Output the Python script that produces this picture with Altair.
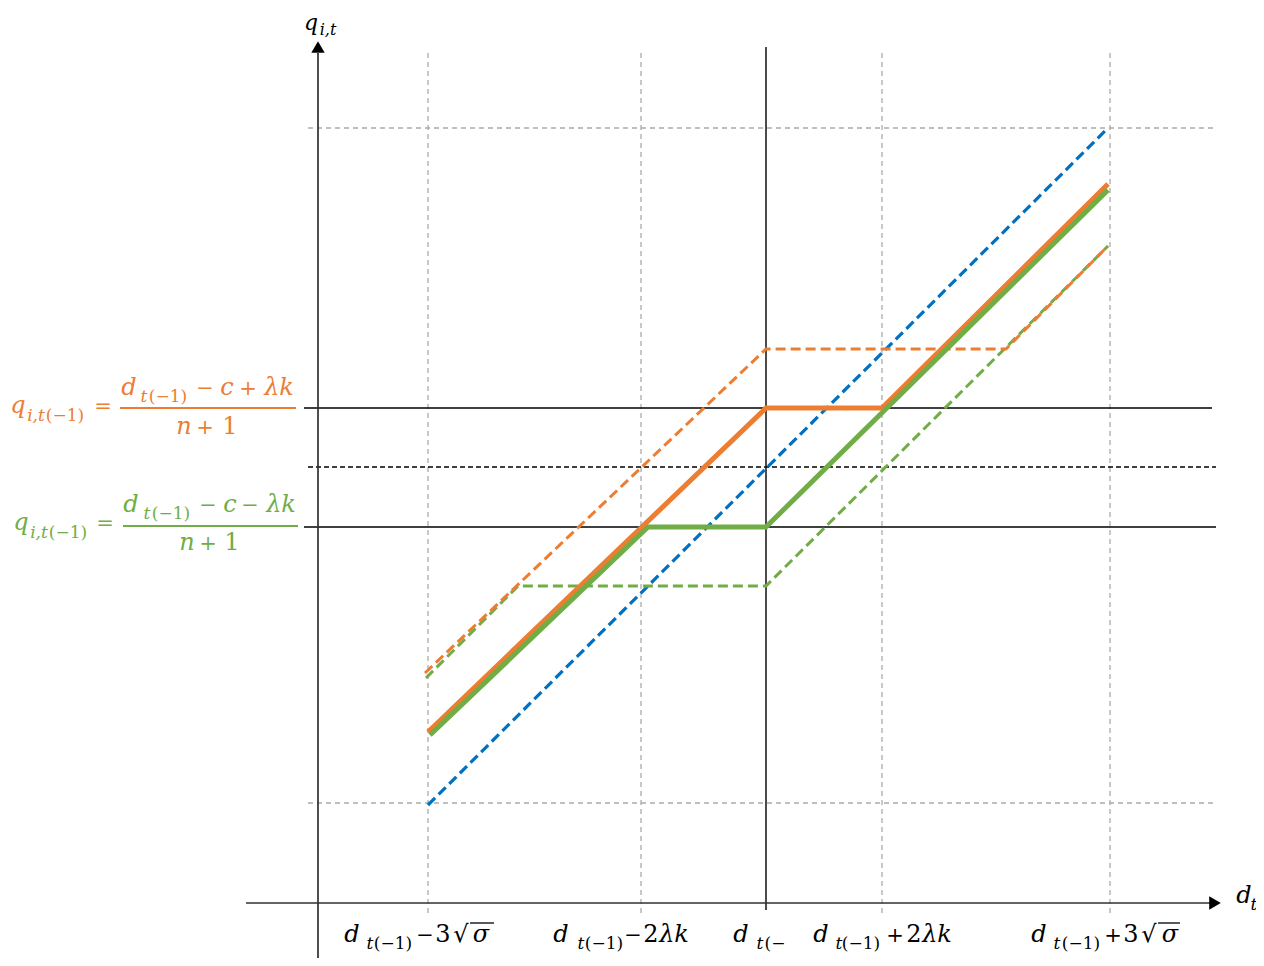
import altair as alt
import pandas as pd

# ---------------- data (diagram coordinates: d_t on x, q_{i,t} on y) ----------------
# reference verticals: d-3sqrt(sigma), d-2λk, d+2λk, d+3sqrt(sigma)  (d itself at 0)
guide_x = [-338, -125, 116, 344]
guide_y = [775, 100]
q_high = 495      # (d - c + λk)/(n+1)
q_mid = 436
q_low = 376       # (d - c - λk)/(n+1)

blue_u = [-338, 342]
blue_v = [98, 775]
orange_solid_u = [-338, 0, 116, 342]
orange_solid_v = [171, 495, 495, 719]
green_solid_u = [-336, -118, 0, 342]
green_solid_v = [168, 376, 376, 713]
orange_dash_u = [-341, 0, 240, 342]
orange_dash_v = [230, 554, 554, 657]
green_dash_u = [-340, -248, 0, 342]
green_dash_v = [225, 317, 317, 657]

ORANGE = "#ED7D31"
GREEN = "#70AD47"
BLUE = "#0070C0"
GRAY = "#ABABAB"

XS = alt.Scale(domain=[-758, 490], nice=False, zero=False)
YS = alt.Scale(domain=[-55, 895], nice=False, zero=False)


def seg_layer(rows, color, width, dash=None):
    df = pd.DataFrame(rows, columns=["u", "u2", "v", "v2"])
    kw = dict(color=color, strokeWidth=width, clip=False)
    if dash:
        kw["strokeDash"] = dash
    return alt.Chart(df).mark_rule(**kw).encode(
        x=alt.X("u:Q", scale=XS, axis=None),
        x2="u2:Q",
        y=alt.Y("v:Q", scale=YS, axis=None),
        y2="v2:Q",
    )


def poly_layer(us, vs, color, width, dash=None):
    df = pd.DataFrame({"u": us, "v": vs, "i": range(len(us))})
    kw = dict(color=color, strokeWidth=width, strokeJoin="miter", clip=False)
    if dash:
        kw["strokeDash"] = dash
    return alt.Chart(df).mark_line(**kw).encode(
        x=alt.X("u:Q", scale=XS, axis=None),
        y=alt.Y("v:Q", scale=YS, axis=None),
        order="i:Q",
    )


layers = []
# gray dashed guides
layers.append(seg_layer([[x, x, -10, 850] for x in guide_x], GRAY, 1.3, [5, 4]))
layers.append(seg_layer([[-458, 449, y, y] for y in guide_y], GRAY, 1.3, [5, 4]))
# black reference levels
layers.append(seg_layer([[-462, 446, q_high, q_high], [-462, 450, q_low, q_low]], "#000000", 1.5))
layers.append(seg_layer([[-458, 450, q_mid, q_mid]], "#000000", 1.4, [5, 3]))
# centre vertical and axes
layers.append(seg_layer([[0, 0, -7, 856]], "#111111", 1.5))
layers.append(seg_layer([[-448, -448, -63, 850], [-520, 444, 0, 0]], "#303030", 1.7))

# arrowheads
arrows = pd.DataFrame({"u": [-448, 449], "v": [856, 0], "shape": ["triangle-up", "triangle-right"]})
layers.append(
    alt.Chart(arrows).mark_point(filled=True, color="black", size=180, opacity=1, clip=False).encode(
        x=alt.X("u:Q", scale=XS, axis=None),
        y=alt.Y("v:Q", scale=YS, axis=None),
        shape=alt.Shape("shape:N", scale=None),
    )
)

# curves
layers.append(poly_layer(blue_u, blue_v, BLUE, 3.2, [10, 5]))
layers.append(poly_layer(green_dash_u, green_dash_v, GREEN, 3, [10, 5]))
layers.append(poly_layer(orange_dash_u, orange_dash_v, ORANGE, 3, [10, 5]))
layers.append(poly_layer(orange_solid_u, orange_solid_v, ORANGE, 5))
layers.append(poly_layer(green_solid_u, green_solid_v, GREEN, 5))

# fraction bars
layers.append(seg_layer([[-646, -470, 495, 495]], ORANGE, 2))
layers.append(seg_layer([[-643, -468, 377, 377]], GREEN, 2))

# ---------------- text pieces (centre-aligned) ----------------
# style: i = italic variable, r = upright
B, S, O = 24, 17, 21  # base, subscript and operator font sizes
K = "#000000"
texts = [
    # axis titles
    ("q", -455, 873, 22, K, "i"), ("i,t", -438, 868, 16, K, "i"),
    ("d", 478, 0, B, K, "i"), ("t", 488, -7, S, K, "i"),
    # orange formula
    ("q", -748, 490, B, ORANGE, "i"), ("i,t", -730, 482, S, ORANGE, "i"),
    ("(−1)", -701, 482, S, ORANGE, "r"), ("=", -663, 490, O, ORANGE, "r"),
    ("d", -637, 508, B, ORANGE, "i"), ("t", -622, 501, S, ORANGE, "i"),
    ("(−1)", -598, 501, S, ORANGE, "r"), ("−", -561, 508, O, ORANGE, "r"),
    ("c", -539, 508, B, ORANGE, "i"), ("+", -518, 508, O, ORANGE, "r"),
    ("λk", -487, 508, B, ORANGE, "i"),
    ("n", -582, 469, B, ORANGE, "i"), ("+", -561, 469, O, ORANGE, "r"),
    ("1", -536, 469, B, ORANGE, "r"),
    # green formula
    ("q", -745, 373, B, GREEN, "i"), ("i,t", -727, 365, S, GREEN, "i"),
    ("(−1)", -698, 365, S, GREEN, "r"), ("=", -661, 373, O, GREEN, "r"),
    ("d", -635, 391, B, GREEN, "i"), ("t", -619, 384, S, GREEN, "i"),
    ("(−1)", -595, 384, S, GREEN, "r"), ("−", -558, 391, O, GREEN, "r"),
    ("c", -536, 391, B, GREEN, "i"), ("−", -516, 391, O, GREEN, "r"),
    ("λk", -485, 391, B, GREEN, "i"),
    ("n", -579, 353, B, GREEN, "i"), ("+", -558, 353, O, GREEN, "r"),
    ("1", -534, 353, B, GREEN, "r"),
    # x tick labels
    ("d", -414, -39, B, K, "i"), ("t", -396, -46, S, K, "i"), ("(−1)", -373, -46, S, K, "r"),
    ("−", -341, -39, O, K, "r"), ("3", -323, -39, B, K, "r"), ("√", -305, -39, B, K, "r"),
    ("σ", -285, -39, B, K, "i"),
    ("d", -205, -39, B, K, "i"), ("t", -185, -46, S, K, "i"), ("(−1)", -162, -46, S, K, "r"),
    ("−", -133, -39, O, K, "r"), ("2", -115, -39, B, K, "r"), ("λk", -92, -39, B, K, "i"),
    ("d", -25, -39, B, K, "i"), ("t", -6, -46, S, K, "i"), ("(−", 9, -46, S, K, "r"),
    ("d", 55, -39, B, K, "i"), ("t", 73, -46, S, K, "i"), ("(−1)", 95, -46, S, K, "r"),
    ("+", 129, -39, O, K, "r"), ("2", 148, -39, B, K, "r"), ("λk", 171, -39, B, K, "i"),
    ("d", 273, -39, B, K, "i"), ("t", 291, -46, S, K, "i"), ("(−1)", 315, -46, S, K, "r"),
    ("+", 347, -39, O, K, "r"), ("3", 365, -39, B, K, "r"), ("√", 383, -39, B, K, "r"),
    ("σ", 404, -39, B, K, "i"),
]
tdf = pd.DataFrame(texts, columns=["t", "u", "v", "size", "color", "style"])

styles = {
    "i": dict(font="DejaVu Serif", fontStyle="italic"),
    "r": dict(font="DejaVu Serif", fontStyle="normal"),
}
for key, props in styles.items():
    sub = tdf[tdf["style"] == key]
    layers.append(
        alt.Chart(sub).mark_text(
            align="center", baseline="alphabetic", clip=False, **props
        ).encode(
            x=alt.X("u:Q", scale=XS, axis=None),
            y=alt.Y("v:Q", scale=YS, axis=None),
            text="t:N",
            size=alt.Size("size:Q", scale=None),
            color=alt.Color("color:N", scale=None),
        )
    )

# overlines of the radicals
layers.append(seg_layer([[-296, -272, -20, -20], [392, 414, -20, -20]], "black", 1.3))

chart = alt.layer(*layers).properties(
    width=1248, height=950, padding=0, autosize=alt.AutoSizeParams(type="none"),
    background="white",
).configure_view(stroke=None)

chart.save("out.html", embed_options={"renderer": "svg", "actions": False})
